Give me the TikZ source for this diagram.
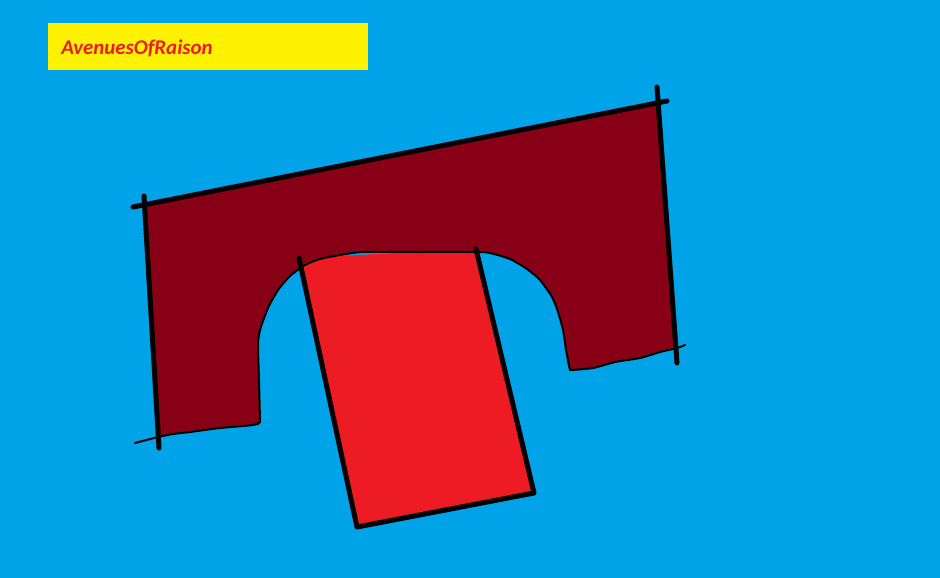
\documentclass[tikz,border=0pt]{standalone}
\usepackage{fontspec}
\setmainfont{Carlito}
\usetikzlibrary{positioning}
\definecolor{sky}{HTML}{00A2E8}
\definecolor{lemon}{HTML}{FFF200}
\definecolor{wine}{HTML}{880015}
\definecolor{scarlet}{HTML}{ED1C24}

\begin{document}
\begin{tikzpicture}[x=0.02cm,y=-0.02cm,
  heavy/.style={draw=black,line width=0.1cm,line cap=round},
  fine/.style={draw=black,line width=0.04cm,line join=round,line cap=round},
  banner/.style={fill=lemon,minimum width=6.4cm,minimum height=0.94cm,inner sep=0pt,outer sep=0pt},
  title/.style={inner sep=0pt,text=scarlet,font=\fontsize{11.9}{13}\selectfont\bfseries\itshape}]
  \fill[sky] (0,0) rectangle (940,578);
  \useasboundingbox (0,0) rectangle (940,578);
  \node[banner,anchor=north west] (band) at (48,23) {};
  \node[title,anchor=base west] (name) at (61,54) {AvenuesOfRaison};
  % corners of the arch and of the slab
  \coordinate (tl) at (145,206);
  \coordinate (tr) at (657,103);
  \coordinate (br) at (676,348);
  \coordinate (qa) at (299,258);
  \coordinate (qb) at (476,249);
  \coordinate (qc) at (534,493);
  \coordinate (qd) at (357,527);
  % slab
  \fill[scarlet] (qa) -- (qb) -- (qc) -- (qd) -- cycle;
  % arch
  \fill[wine] (tl) -- (tr) -- (br) -- plot[smooth,tension=0.4] coordinates {
     (676,348) (660,352) (640,358) (615,362) (593,368) (570,370)
     (566,350) (563,330) (558,312) (552,297) (540,280) (527,269) (510,259)
     (490,253) (477,252) (420,252) (363,252) (340,255) (320,259) (305,265)
     (290,276) (278,290) (268,308) (260,330) (258,345) (259,380) (260,422)
     (253,425) (220,428) (190,432) (173,434) (158,437)} -- cycle;
  \draw[fine] plot[smooth,tension=0.4] coordinates {
     (685,345) (677,348) (660,352) (640,358) (615,362) (593,368) (570,370)};
  \draw[fine] plot[smooth,tension=0.4] coordinates {
     (570,370) (566,350) (563,330) (558,312) (552,297) (540,280) (527,269) (510,259)
     (490,253) (477,252) (420,252) (363,252) (340,255) (320,259) (305,265)
     (290,276) (278,290) (268,308) (260,330) (258,345) (259,380) (260,422)};
  \draw[fine] plot[smooth,tension=0.4] coordinates {
     (260,422) (253,425) (220,428) (190,432) (173,434) (158,437) (135,443)};
  % heavy strokes
  \coordinate (ta) at (133,207);
  \coordinate (tb) at (667,101);
  \coordinate (la) at (144,196);
  \coordinate (lb) at (159,448);
  \coordinate (ra) at (657,87);
  \coordinate (rb) at (677,363);
  \draw[heavy] (ta) -- (tb);
  \draw[heavy] (la) -- (lb);
  \draw[heavy] (ra) -- (rb);
  \draw[heavy,line join=round] (qa) -- (qd) -- (qc) -- (qb);
\end{tikzpicture}
\end{document}
